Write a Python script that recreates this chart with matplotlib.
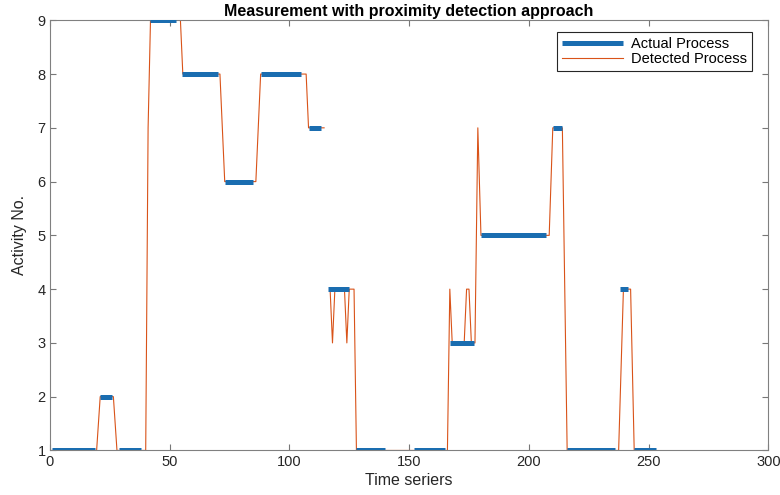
import numpy as np
import matplotlib
matplotlib.use("Agg")
import matplotlib.pyplot as plt

plt.rcParams['font.family'] = ['Liberation Sans', 'DejaVu Sans']

# actual process: one segment per activity (start, end, activity no.)
act_start = [1, 21, 29, 42, 55, 73, 88, 108, 116, 128, 152, 167, 180, 210, 216, 238, 244]
act_end = [19, 26, 38, 52.5, 70, 85, 105, 113, 125, 140, 165, 177, 207, 214, 236, 241.5, 253]
act_level = [1, 2, 1, 9, 8, 6, 8, 7, 4, 1, 1, 3, 5, 7, 1, 4, 1]

# detected process (nan = no detection)
det_t = [1, 19.5, 21, 26.5, 28, 40, 41, 42, 54.5, 55.5, 71, 73, 86, 88, 107, 108, 114.5,
         115, 117, 118, 119, 123, 124, 125, 127, 128, 166, 167, 168, 173, 174, 175, 176,
         177.5, 178.7, 180, 208.5, 210, 214, 216, 237.5, 239.5, 242.5, 244, 253]
det_y = [1, 1, 2, 2, 1, 1, 7, 9, 9, 8, 8, 6, 6, 8, 8, 7, 7,
         np.nan, 4, 3, 4, 4, 3, 4, 4, 1, 1, 4, 3, 3, 4, 4, 3,
         3, 7, 5, 5, 7, 7, 1, 1, 4, 4, 1, 1]

# build the broken actual-process line
ax_t, ax_y = [], []
for s, e, lv in zip(act_start, act_end, act_level):
    ax_t += [s, e, np.nan]
    ax_y += [lv, lv, np.nan]

fig = plt.figure(figsize=(7.8, 4.95), dpi=100)
ax = fig.add_axes([0.064, 0.09, 0.921, 0.869])

ax.plot(ax_t, ax_y, color='#1A6DB0', linewidth=3.6, solid_capstyle='butt',
        label='Actual Process', zorder=3)
ax.plot(det_t, det_y, color='#D95319', linewidth=0.8, label='Detected Process',
        zorder=2)

ax.set_xlim(0, 300)
ax.set_ylim(1, 9)
ax.set_xticks(np.arange(0, 301, 50))
ax.set_yticks(np.arange(1, 10, 1))
ax.tick_params(direction='in', length=4, top=True, right=True,
               labelsize=10.5, colors='#777777', labelcolor='#262626', pad=3)
for sp in ax.spines.values():
    sp.set_color('#808080')
    sp.set_linewidth(0.8)

ax.set_title('Measurement with proximity detection approach', fontsize=11.5,
             fontweight='bold', pad=3)
ax.set_xlabel('Time seriers', fontsize=11.5, color='#262626', labelpad=3)
ax.set_ylabel('Activity No.', fontsize=11.5, color='#262626', labelpad=8)

leg = ax.legend(loc='upper right', bbox_to_anchor=(0.977, 0.973), borderaxespad=0,
                fontsize=10.5, handlelength=4.2, fancybox=False, framealpha=1,
                edgecolor='#262626', borderpad=0.35, labelspacing=0.05,
                handletextpad=0.5)
leg.get_frame().set_linewidth(0.8)

fig.savefig('out.png', dpi=100)
